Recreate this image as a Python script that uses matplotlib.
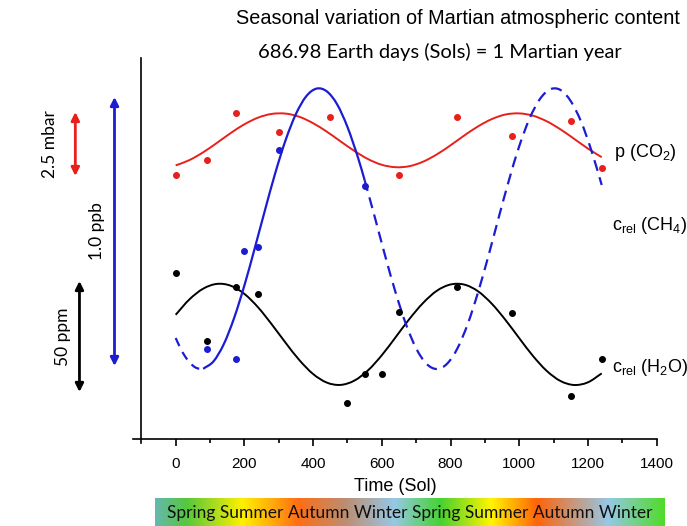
import matplotlib
matplotlib.use('Agg')
import matplotlib.pyplot as plt
from matplotlib.colors import LinearSegmentedColormap
from matplotlib.path import Path
from matplotlib.patches import PathPatch

import numpy as np


# measured points (time in sols, relative signal above the time axis)
co2_sol = [0, 90, 175, 300, 450, 650, 820, 980, 1150, 1240]
co2_val = [264, 279, 326, 307, 322, 264, 322, 303, 318, 271]

ch4_sol = [90, 175, 200, 240, 300, 550]
ch4_val = [90, 80, 188, 192, 289, 253]

h2o_sol = [0, 90, 175, 240, 500, 550, 600, 650, 820, 980, 1150, 1240]
h2o_val = [166, 98, 152, 145, 36, 65, 65, 127, 152, 126, 43, 80]

# fitted seasonal curves
co2_fit_sol = [0, 40, 80, 120, 160, 200, 240, 280, 320, 360, 400, 440, 480, 520,
               560, 600, 640, 680, 720, 760, 800, 840, 880, 920, 960, 1000, 1040,
               1080, 1120, 1160, 1200, 1240]
co2_fit_val = [273.6, 278.9, 286.7, 296.1, 305.9, 314.7, 321.4, 325.1, 325.4, 322.2,
               315.8, 307.3, 297.6, 288.1, 279.9, 274.2, 271.8, 272.8, 277.3, 284.6,
               293.7, 303.5, 312.6, 319.9, 324.5, 325.6, 323.3, 317.7, 309.6, 300.1,
               290.4, 281.8]

h2o_fit_sol = co2_fit_sol
h2o_fit_val = [124.2, 139.6, 150.3, 155.1, 153.3, 145.1, 131.6, 114.5, 96.2, 78.9,
               65.0, 56.4, 54.1, 58.4, 68.7, 83.8, 101.7, 119.9, 136.0, 148.2,
               154.5, 154.4, 147.7, 135.3, 119.0, 100.8, 83.0, 68.1, 58.0, 54.0,
               56.7, 65.6]

ch4_fit_sol = [0, 20, 40, 60, 80, 110, 140, 170, 200, 230, 260, 290, 320, 350, 380,
               410, 440, 470, 500, 530, 550, 580, 610, 640, 670, 700, 730, 760, 790,
               820, 850, 880, 910, 940, 970, 1000, 1030, 1060, 1090, 1120, 1150,
               1180, 1210, 1240]
ch4_fit_val = [101.0, 86.8, 76.7, 71.1, 70.2, 77.6, 94.8, 120.9, 153.5, 190.6, 228.9,
               266.1, 298.9, 325.0, 342.7, 350.4, 347.6, 334.6, 312.0, 282.1, 258.8,
               221.3, 182.8, 146.6, 115.0, 90.6, 75.2, 70.0, 75.3, 90.6, 115.0, 146.6,
               182.8, 221.3, 258.8, 292.9, 320.5, 339.9, 349.7, 349.0, 337.8, 317.3,
               288.4, 254.0]
ch4_solid_range = (80, 550)  # part of the CH4 fit backed by data

season_labels = ['Spring', 'Summer', 'Autumn', 'Winter',
                 'Spring', 'Summer', 'Autumn', 'Winter']

RED = '#e8201c'
BLUE = '#1c1cd2'


def smooth_curve(ax, xs, ys, **kw):
    """draw a line through the points as cubic bezier segments (catmull-rom tangents)"""
    p = np.column_stack([xs, ys]).astype(float)
    verts = [p[0]]
    codes = [Path.MOVETO]
    for i in range(len(p) - 1):
        t0 = (p[i + 1] - p[i - 1]) / 2 if i > 0 else p[i + 1] - p[i]
        t1 = (p[i + 2] - p[i]) / 2 if i + 2 < len(p) else p[i + 1] - p[i]
        verts += [p[i] + t0 / 3, p[i + 1] - t1 / 3, p[i + 1]]
        codes += [Path.CURVE4] * 3
    ax.add_patch(PathPatch(Path(verts, codes), fill=False, **kw))


def season_bar(fig):
    """colour strip with the seasons under the time axis"""

    stops = [
        (0.00, '#64b9aa'),
        (0.06, '#55c83c'),
        (0.17, '#fff000'),
        (0.28, '#ff6e14'),
        (0.37, '#be8c6e'),
        (0.47, '#96c8e6'),
        (0.56, '#46d232'),
        (0.66, '#fff500'),
        (0.75, '#ff640a'),
        (0.82, '#c8967a'),
        (0.89, '#96c8e6'),
        (1.00, '#50dc28'),
    ]
    cmap = LinearSegmentedColormap.from_list('seasons', stops)

    bax = fig.add_axes([155 / 687, 0, 510 / 687, 28 / 526])
    bax.imshow(np.linspace(0, 1, 512)[None, :], aspect='auto', cmap=cmap,
               extent=[0, 1, 0, 1])
    bax.set_axis_off()
    bax.text(0.5, 0.45, ' '.join(season_labels), ha='center', va='center',
             fontsize=12.5, family='Lato', color='#111111')


def scale_arrow(ax, x, y0, y1, color, label, dx):
    ax.annotate('', xy=(x, y0), xytext=(x, y1), xycoords='data',
                annotation_clip=False,
                arrowprops=dict(arrowstyle='<|-|>', color=color, lw=2,
                                mutation_scale=12, shrinkA=0, shrinkB=0))
    ax.text(x + dx, (y0 + y1) / 2, label, rotation=90, ha='center', va='center',
            fontsize=12.5, family='Lato', clip_on=False)


def main():
    plt.rcParams['font.family'] = ['Liberation Sans', 'DejaVu Sans']
    plt.rcParams['mathtext.fontset'] = 'custom'
    plt.rcParams['mathtext.rm'] = 'Liberation Sans'

    fig = plt.figure(figsize=(6.87, 5.26), dpi=100)
    ax = fig.add_axes([133.4 / 687, 83 / 526, 523.3 / 687, 385 / 526])

    # fitted curves
    smooth_curve(ax, co2_fit_sol, co2_fit_val, color=RED, lw=1.4)
    smooth_curve(ax, h2o_fit_sol, h2o_fit_val, color='black', lw=1.4)

    s = np.array(ch4_fit_sol)
    v = np.array(ch4_fit_val)
    lo, hi = ch4_solid_range
    solid = (s >= lo) & (s <= hi)
    smooth_curve(ax, s[solid], v[solid], color=BLUE, lw=1.6)
    smooth_curve(ax, s[s <= lo], v[s <= lo], color=BLUE, lw=1.6, ls=(0, (4, 3)))
    smooth_curve(ax, s[s >= hi], v[s >= hi], color=BLUE, lw=1.6, ls=(0, (5, 3)))

    # measurements
    ax.plot(co2_sol, co2_val, 'o', color=RED, ms=4)
    ax.plot(ch4_sol, ch4_val, 'o', color=BLUE, ms=4)
    ax.plot(h2o_sol, h2o_val, 'o', color='black', ms=4)

    # series labels
    ax.text(1275, 287, r'p (CO$_2$)', fontsize=13, va='center', clip_on=False)
    ax.text(1270, 214, r'c$_{\rm rel}$ (CH$_4$)', fontsize=13, va='center',
            clip_on=False)
    ax.text(1270, 72, r'c$_{\rm rel}$ (H$_2$O)', fontsize=13, va='center',
            clip_on=False)

    # scale bars left of the axis
    scale_arrow(ax, -292, 263, 327, RED, '2.5 mbar', -75)
    scale_arrow(ax, -178, 73, 342, BLUE, '1.0 ppb', -50)
    scale_arrow(ax, -280, 47, 158, 'black', '50 ppm', -47)

    ax.set_xlim(-123, 1400)
    ax.set_ylim(-4, 381)
    ax.spines['top'].set_visible(False)
    ax.spines['right'].set_visible(False)
    ax.spines['left'].set_position(('data', -100))
    ax.spines['bottom'].set_position(('data', 0))
    for sp in ('left', 'bottom'):
        ax.spines[sp].set_linewidth(1.2)
    ax.set_yticks([])
    ax.set_xticks(np.arange(0, 1401, 200))
    ax.set_xticks(np.arange(100, 1400, 200), minor=True)
    ax.tick_params(axis='x', which='major', length=5, width=1.2, labelsize=11, pad=8)
    ax.tick_params(axis='x', which='minor', length=3, width=1.2)
    ax.set_xlabel('Time (Sol)', fontsize=13, labelpad=5)

    fig.text(458 / 687, 1 - 18 / 526, 'Seasonal variation of Martian atmospheric content',
             ha='center', va='center', fontsize=14.3)
    fig.text(440 / 687, 1 - 52 / 526, '686.98 Earth days (Sols) = 1 Martian year',
             ha='center', va='center', fontsize=14.5, family='Lato')

    season_bar(fig)

    fig.savefig('out.png', dpi=100)
    plt.close()


if __name__ == '__main__':
    main()
